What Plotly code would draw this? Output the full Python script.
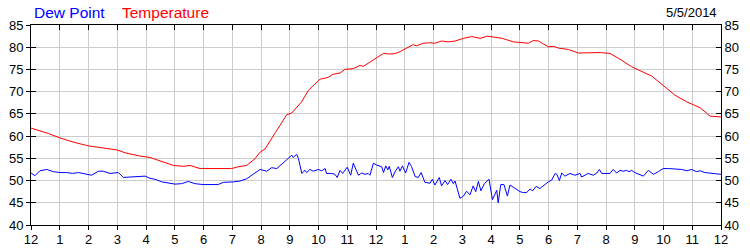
import plotly.graph_objects as go

# ---- data (hours after midnight, °F) ----
hour_ticks = list(range(25))
hour_labels = ["12", "1", "2", "3", "4", "5", "6", "7", "8", "9", "10", "11",
               "12", "1", "2", "3", "4", "5", "6", "7", "8", "9", "10", "11", "12"]

temp_hours = [0.0, 0.3, 0.6, 1.0, 1.24, 1.5, 2.0, 2.5, 2.98, 3.3, 3.8, 4.14,
              4.66, 4.95, 5.3, 5.53, 5.88, 6.98, 7.2, 7.5, 7.79, 7.97, 8.14, 8.31,
              8.5, 8.66, 8.89, 9.07, 9.41, 9.65, 10.05, 10.33, 10.5, 10.75, 10.92,
              11.21, 11.44, 11.56, 11.79, 12.02, 12.26, 12.43, 12.6, 12.77, 13.01,
              13.3, 13.4, 13.64, 13.87, 14.05, 14.28, 14.51, 14.75, 15.04, 15.33,
              15.62, 15.87, 16.26, 16.39, 16.78, 17.08, 17.3, 17.47, 17.65, 17.99,
              18.17, 18.35, 18.69, 19.04, 19.68, 19.8, 20.14, 20.49, 20.89, 21.18,
              21.59, 21.99, 22.4, 22.81, 23.27, 23.62, 24.0]
temp_values = [61.8, 61.2, 60.6, 59.6, 59.1, 58.6, 57.8, 57.4, 56.9, 56.2, 55.5, 55.2,
               54.1, 53.4, 53.2, 53.4, 52.7, 52.7, 53.1, 53.4, 54.9, 56.4, 57.1, 59.0,
               60.8, 62.4, 64.8, 65.2, 67.7, 70.3, 72.8, 73.2, 73.9, 74.2, 75.0,
               75.2, 75.9, 75.7, 76.7, 77.7, 78.6, 78.5, 78.5, 78.8, 79.7,
               80.6, 80.3, 80.9, 81.0, 80.9, 81.4, 81.2, 81.4, 82.0, 82.4,
               82.0, 82.5, 82.1, 82.0, 81.2, 81.1, 80.9, 81.5, 81.4, 80.1,
               80.2, 79.8, 79.5, 78.7, 78.7, 78.8, 78.6, 77.3, 75.6, 74.8,
               73.5, 71.4, 69.2, 67.7, 66.4, 64.5, 64.3]

dew_hours = [0.0, 0.14, 0.31, 0.55, 0.78, 1.01, 1.24, 1.45, 1.65, 1.94, 2.11, 2.34,
             2.51, 2.75, 3.04, 3.21, 3.56, 3.79, 3.97, 4.14, 4.31, 4.55, 5.01, 5.24,
             5.47, 5.7, 5.99, 6.51, 6.69, 7.04, 7.27, 7.5, 7.79, 7.97, 8.2, 8.37,
             8.55, 8.72, 8.89, 9.07, 9.12, 9.24, 9.3, 9.42, 9.53, 9.59, 9.7, 9.82,
             9.99, 10.11, 10.23, 10.28, 10.46, 10.57, 10.65, 10.75, 10.84, 11.0,
             11.12, 11.21, 11.39, 11.5, 11.62, 11.73, 11.79, 11.91, 12.02, 12.14,
             12.2, 12.26, 12.34, 12.41, 12.46, 12.57, 12.68, 12.78, 12.83, 12.92,
             13.03, 13.15, 13.24, 13.36, 13.47, 13.57, 13.7, 13.88, 13.96, 14.05,
             14.2, 14.28, 14.4, 14.49, 14.61, 14.69, 14.75, 14.92, 15.04, 15.15,
             15.27, 15.38, 15.47, 15.56, 15.65, 15.77, 15.85, 15.93, 16.05, 16.2,
             16.25, 16.34, 16.45, 16.57, 16.66, 16.83, 17.01, 17.12, 17.24, 17.36,
             17.45, 17.57, 17.7, 17.99, 18.11, 18.23, 18.29, 18.38, 18.46, 18.57,
             18.75, 18.92, 19.1, 19.15, 19.27, 19.38, 19.56, 19.68, 19.77, 19.85,
             20.14, 20.25, 20.37, 20.49, 20.6, 20.72, 20.8, 20.89, 21.0, 21.3,
             21.47, 21.65, 21.82, 21.99, 22.17, 22.46, 22.63, 22.81, 22.98, 23.15,
             23.27, 23.44, 23.68, 24.0]
dew_values = [51.7, 51.1, 52.2, 52.5, 52.0, 51.8, 51.8, 51.6, 51.8, 51.4, 51.2, 52.1,
              52.1, 51.6, 51.8, 50.7, 50.8, 50.8, 51.0, 50.5, 50.3, 49.7, 49.2, 49.3,
              49.8, 49.3, 49.1, 49.1, 49.6, 49.7, 49.9, 50.4, 51.6, 52.5, 52.1, 52.9,
              52.7, 53.7, 54.6, 55.7, 55.2, 55.9, 55.0, 51.6, 52.3, 51.8, 52.5, 52.1,
              52.5, 52.2, 52.7, 51.6, 51.6, 51.4, 50.7, 52.3, 51.6, 53.0,
              51.2, 53.9, 51.2, 51.7, 51.4, 51.6, 51.2, 53.9, 53.5, 53.2,
              53.1, 51.8, 53.3, 52.4, 53.2, 50.7, 52.2, 53.1, 52.1, 53.3,
              51.7, 54.1, 53.1, 50.9, 50.7, 51.8, 49.6, 49.4, 50.3, 49.0,
              50.7, 48.8, 50.0, 49.1, 50.3, 49.3, 49.9, 46.0, 46.5, 47.6,
              46.8, 48.8, 47.5, 49.8, 47.7, 49.3, 49.9, 50.3, 45.7, 47.8,
              45.0, 49.1, 49.1, 46.5, 49.0, 48.2, 47.5, 47.3, 47.3, 48.1,
              47.7, 48.7, 48.2, 49.7, 50.1, 51.6, 51.4, 50.0, 51.7, 51.0,
              51.6, 51.2, 51.6, 50.8, 51.2, 51.6, 51.2, 51.7, 52.5, 51.6,
              51.6, 52.5, 51.7, 52.3, 52.1, 52.3, 52.0, 52.3, 51.8, 51.0,
              52.3, 51.4, 52.0, 52.7, 52.7, 52.5, 52.5, 52.2, 52.5, 52.0,
              52.2, 51.8, 51.6, 51.4]

y_ticks = [40, 45, 50, 55, 60, 65, 70, 75, 80, 85]

FONT = "Arial, Liberation Sans, sans-serif"

fig = go.Figure()
fig.add_trace(go.Scatter(x=dew_hours, y=dew_values, mode="lines",
                         line=dict(color="#0000ff", width=1),
                         showlegend=False, hoverinfo="skip"))
fig.add_trace(go.Scatter(x=temp_hours, y=temp_values, mode="lines",
                         line=dict(color="#ff0000", width=1),
                         showlegend=False, hoverinfo="skip"))
# empty traces to anchor the mirror axes
fig.add_trace(go.Scatter(x=[None], y=[None], xaxis="x2", yaxis="y2",
                         showlegend=False, hoverinfo="skip"))
fig.add_trace(go.Scatter(x=[None], y=[None], xaxis="x", yaxis="y3",
                         showlegend=False, hoverinfo="skip"))

fig.update_layout(
    width=750, height=250, autosize=False,
    margin=dict(l=31, r=29, t=25, b=25, pad=0, autoexpand=False),
    paper_bgcolor="white", plot_bgcolor="white",
    font=dict(family=FONT, size=13, color="black"),
    xaxis=dict(range=[0, 24], tickvals=hour_ticks, ticktext=hour_labels,
               showgrid=True, gridcolor="#cccccc", gridwidth=1,
               showline=True, linecolor="black", linewidth=1,
               ticks="outside", ticklen=4, tickcolor="black", automargin=False,
               ticklabelstandoff=-2,
               zeroline=False, tickfont=dict(size=13, color="black")),
    xaxis2=dict(range=[0, 24], tickvals=hour_ticks, overlaying="x", side="top",
                showticklabels=False, showgrid=False, zeroline=False, automargin=False,
                showline=True, linecolor="black", linewidth=1,
                ticks="inside", ticklen=5, tickcolor="black"),
    yaxis=dict(range=[40, 85], tickvals=y_ticks,
               showgrid=True, gridcolor="#cccccc", gridwidth=1,
               showline=True, linecolor="black", linewidth=1,
               ticks="outside", ticklen=4, tickcolor="black", automargin=False,
               zeroline=False, tickfont=dict(size=13, color="black")),
    yaxis2=dict(range=[40, 85], tickvals=y_ticks, overlaying="y", side="right",
                showgrid=False, zeroline=False, automargin=False,
                showline=True, linecolor="black", linewidth=1,
                ticks="inside", ticklen=5, tickcolor="black",
                tickfont=dict(size=13, color="black")),
    yaxis3=dict(range=[40, 85], tickvals=y_ticks, overlaying="y", side="left",
                showticklabels=False, showgrid=False, zeroline=False, automargin=False,
                showline=False, ticks="inside", ticklen=5, tickcolor="black"),
    annotations=[
        dict(text="Dew Point", x=0.0015, y=1.0625, xref="paper", yref="paper",
             xanchor="left", yanchor="middle", showarrow=False,
             font=dict(family=FONT, size=15.5, color="#0000ff")),
        dict(text="Temperature", x=0.1290, y=1.0625, xref="paper", yref="paper",
             xanchor="left", yanchor="middle", showarrow=False,
             font=dict(family=FONT, size=15.5, color="#ff0000")),
        dict(text="5/5/2014", x=0.9970, y=1.0625, xref="paper", yref="paper",
             xanchor="right", yanchor="middle", showarrow=False,
             font=dict(family=FONT, size=13, color="black")),
    ],
)

fig.write_html("out.html")
